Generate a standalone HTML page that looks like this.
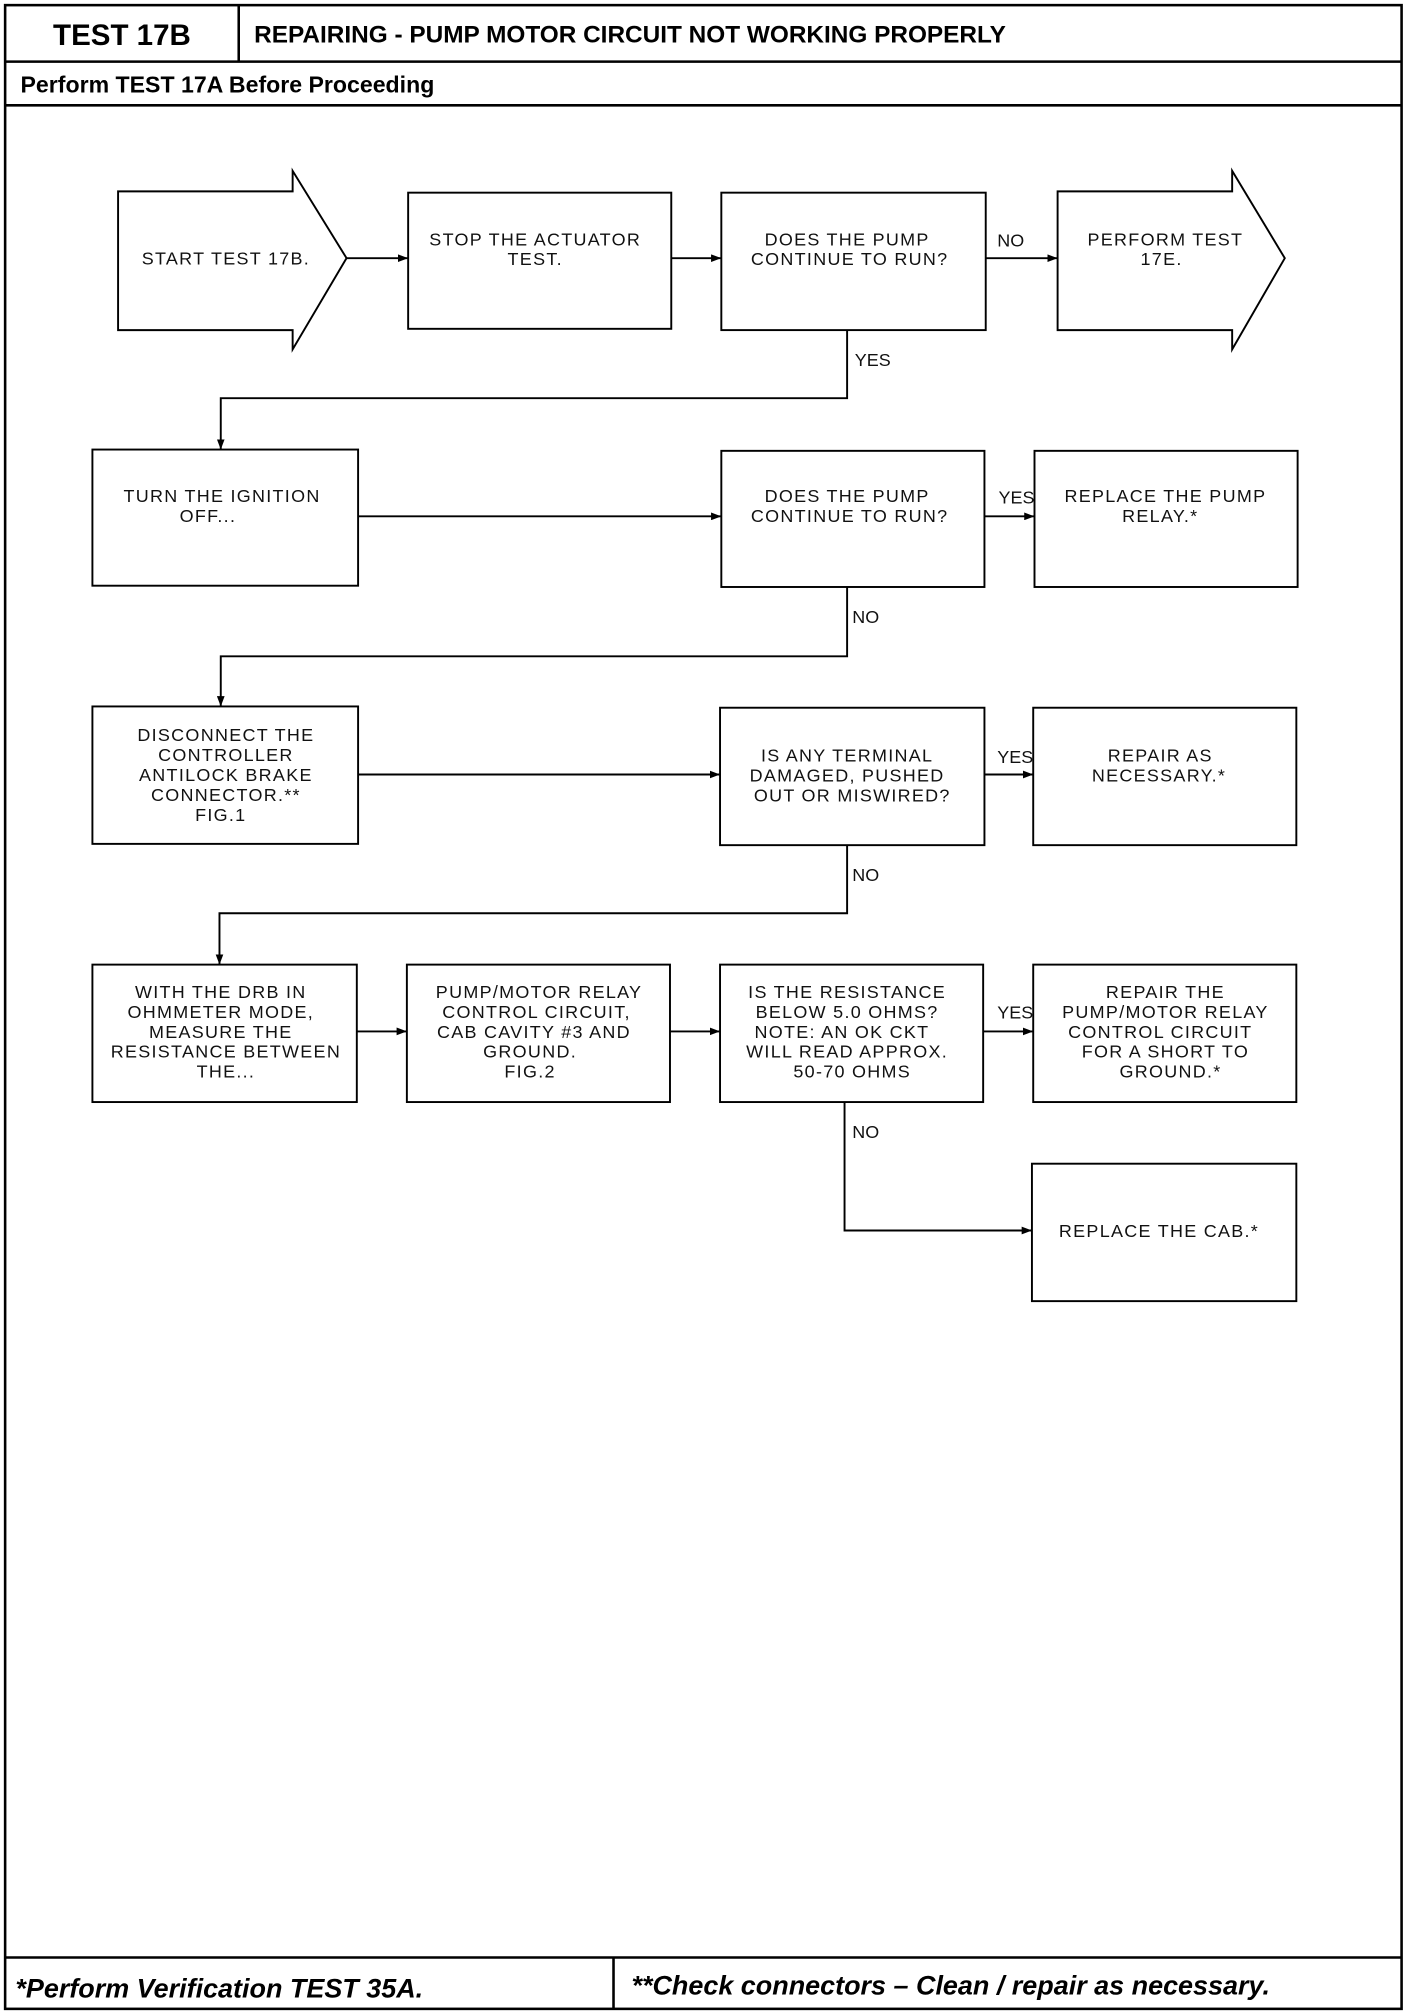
<!DOCTYPE html>
<html><head><meta charset="utf-8"><style>
html,body{margin:0;padding:0;background:#fff;}
svg{display:block;}
.t{font-family:"Liberation Sans",sans-serif;font-size:14px;letter-spacing:1px;fill:#111;text-anchor:middle;}
.l{font-family:"Liberation Sans",sans-serif;font-size:14px;fill:#111;}
.h{font-family:"Liberation Sans",sans-serif;font-weight:bold;fill:#000;}
</style></head><body>
<svg width="1408" height="2014" viewBox="0 0 1097 1568" preserveAspectRatio="none" xmlns="http://www.w3.org/2000/svg">
<defs><marker id="a" markerWidth="8" markerHeight="6" refX="8" refY="3" orient="auto" markerUnits="userSpaceOnUse"><path d="M0,0 L8,3 L0,6 Z" fill="#000"/></marker></defs>
<g fill="none" stroke="#000" stroke-width="2">
<rect x="4" y="4" width="1088" height="1560"/>
<line x1="4" y1="48" x2="1092" y2="48"/>
<line x1="186" y1="4" x2="186" y2="48"/>
<line x1="4" y1="82" x2="1092" y2="82"/>
<line x1="4" y1="1524" x2="1092" y2="1524"/>
<line x1="478" y1="1524" x2="478" y2="1564"/>
</g>
<text class="h" x="95" y="35" font-size="23" text-anchor="middle">TEST 17B</text>
<text class="h" x="198" y="33" font-size="19">REPAIRING - PUMP MOTOR CIRCUIT NOT WORKING PROPERLY</text>
<text class="h" x="16" y="72" font-size="18">Perform TEST 17A Before Proceeding</text>
<text class="h" x="12" y="1555" font-size="21" font-style="italic">*Perform Verification TEST 35A.</text>
<text class="h" x="492" y="1553" font-size="21" font-style="italic">**Check connectors – Clean / repair as necessary.</text>

<g fill="#fff" stroke="#000" stroke-width="1.5">
<polygon points="92,149 228,149 228,133 270,201 228,272 228,257 92,257"/>
<rect x="318" y="150" width="205" height="106"/>
<rect x="562" y="150" width="206" height="107"/>
<polygon points="824,149 960,149 960,133 1001,201 960,272 960,257 824,257"/>
<rect x="72" y="350" width="207" height="106"/>
<rect x="562" y="351" width="205" height="106"/>
<rect x="806" y="351" width="205" height="106"/>
<rect x="72" y="550" width="207" height="107"/>
<rect x="561" y="551" width="206" height="107"/>
<rect x="805" y="551" width="205" height="107"/>
<rect x="72" y="751" width="206" height="107"/>
<rect x="317" y="751" width="205" height="107"/>
<rect x="561" y="751" width="205" height="107"/>
<rect x="805" y="751" width="205" height="107"/>
<rect x="804" y="906" width="206" height="107"/>
</g>

<g fill="none" stroke="#000" stroke-width="1.5" marker-end="url(#a)">
<line x1="270" y1="201" x2="318" y2="201"/>
<line x1="523" y1="201" x2="562" y2="201"/>
<line x1="768" y1="201" x2="824" y2="201"/>
<polyline points="660,257 660,310 172,310 172,350"/>
<line x1="279" y1="402" x2="562" y2="402"/>
<line x1="767" y1="402" x2="806" y2="402"/>
<polyline points="660,457 660,511 172,511 172,550"/>
<line x1="279" y1="603" x2="561" y2="603"/>
<line x1="767" y1="603" x2="805" y2="603"/>
<polyline points="660,658 660,711 171,711 171,751"/>
<line x1="278" y1="803" x2="317" y2="803"/>
<line x1="522" y1="803" x2="561" y2="803"/>
<line x1="766" y1="803" x2="805" y2="803"/>
<polyline points="658,858 658,958 804,958"/>
</g>

<text class="l" x="777" y="192">NO</text>
<text class="l" x="666" y="285">YES</text>
<text class="l" x="778" y="392">YES</text>
<text class="l" x="664" y="485">NO</text>
<text class="l" x="777" y="594">YES</text>
<text class="l" x="664" y="686">NO</text>
<text class="l" x="777" y="793">YES</text>
<text class="l" x="664" y="886">NO</text>

<text class="t" x="176" y="206">START TEST 17B.</text>
<text class="t" x="417" y="191">STOP THE ACTUATOR<tspan x="417" dy="15.5">TEST.</tspan></text>
<text class="t" x="660" y="191">DOES THE PUMP<tspan x="662" dy="15.5">CONTINUE TO RUN?</tspan></text>
<text class="t" x="908" y="191">PERFORM TEST<tspan x="905" dy="15.5">17E.</tspan></text>
<text class="t" x="173" y="391">TURN THE IGNITION<tspan x="162" dy="15.5">OFF...</tspan></text>
<text class="t" x="660" y="391">DOES THE PUMP<tspan x="662" dy="15.5">CONTINUE TO RUN?</tspan></text>
<text class="t" x="908" y="391">REPLACE THE PUMP<tspan x="904" dy="15.5">RELAY.*</tspan></text>
<text class="t" x="176" y="577">DISCONNECT THE<tspan x="176" dy="15.5">CONTROLLER</tspan><tspan x="176" dy="15.5">ANTILOCK BRAKE</tspan><tspan x="176" dy="15.5">CONNECTOR.**</tspan><tspan x="172" dy="15.5">FIG.1</tspan></text>
<text class="t" x="660" y="593">IS ANY TERMINAL<tspan x="660" dy="15.5">DAMAGED, PUSHED</tspan><tspan x="664" dy="15.5">OUT OR MISWIRED?</tspan></text>
<text class="t" x="904" y="593">REPAIR AS<tspan x="903" dy="15.5">NECESSARY.*</tspan></text>
<text class="t" x="172" y="777">WITH THE DRB IN<tspan x="172" dy="15.5">OHMMETER MODE,</tspan><tspan x="172" dy="15.5">MEASURE THE</tspan><tspan x="176" dy="15.5">RESISTANCE BETWEEN</tspan><tspan x="176" dy="15.5">THE...</tspan></text>
<text class="t" x="420" y="777">PUMP/MOTOR RELAY<tspan x="418" dy="15.5">CONTROL CIRCUIT,</tspan><tspan x="416" dy="15.5">CAB CAVITY #3 AND</tspan><tspan x="413" dy="15.5">GROUND.</tspan><tspan x="413" dy="15.5">FIG.2</tspan></text>
<text class="t" x="660" y="777">IS THE RESISTANCE<tspan x="660" dy="15.5">BELOW 5.0 OHMS?</tspan><tspan x="656" dy="15.5">NOTE: AN OK CKT</tspan><tspan x="660" dy="15.5">WILL READ APPROX.</tspan><tspan x="664" dy="15.5">50-70 OHMS</tspan></text>
<text class="t" x="908" y="777">REPAIR THE<tspan x="908" dy="15.5">PUMP/MOTOR RELAY</tspan><tspan x="904" dy="15.5">CONTROL CIRCUIT</tspan><tspan x="908" dy="15.5">FOR A SHORT TO</tspan><tspan x="912" dy="15.5">GROUND.*</tspan></text>
<text class="t" x="903" y="963">REPLACE THE CAB.*</text>
</svg>
</body></html>
